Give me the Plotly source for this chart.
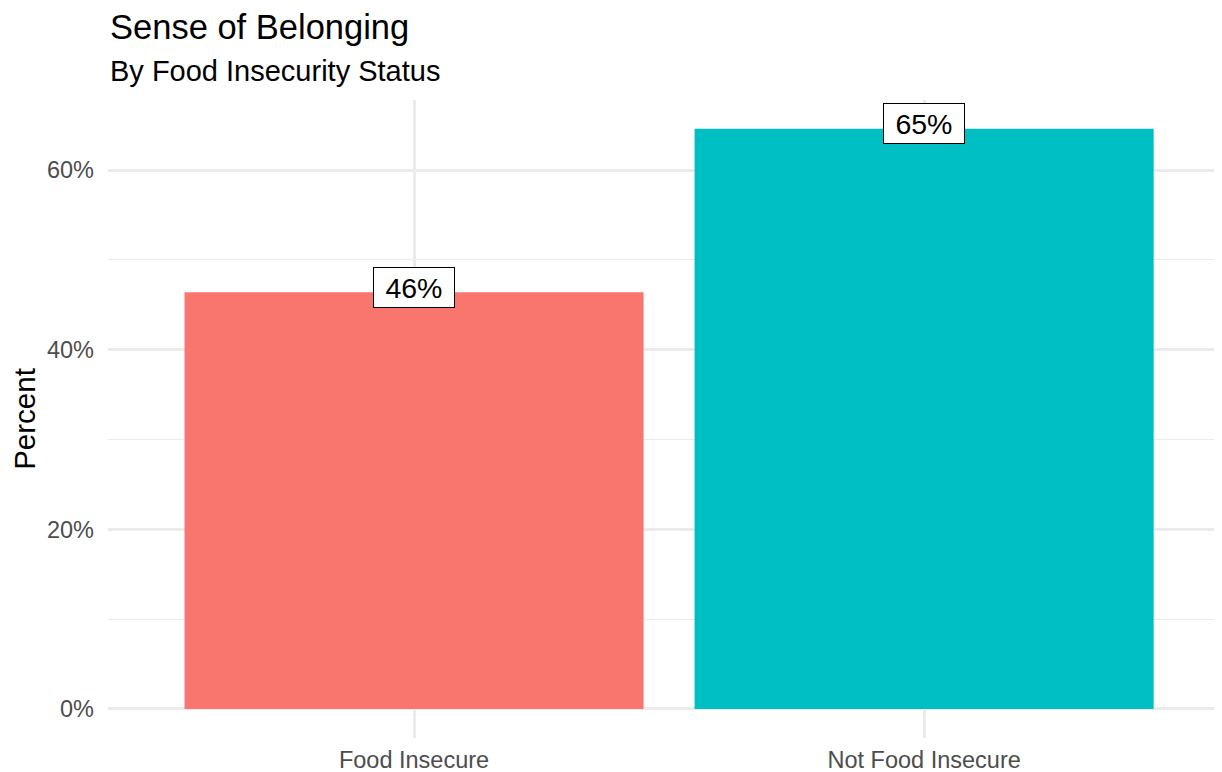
import plotly.graph_objects as go

categories = ["Food Insecure", "Not Food Insecure"]
percent_values = [0.464, 0.646]
bar_colors = ["#F8766D", "#00BFC4"]
y_tick_values = [0, 0.2, 0.4, 0.6]
y_tick_labels = ["0%", "20%", "40%", "60%"]

FONT = "Liberation Sans, Arial, Helvetica, sans-serif"

fig = go.Figure()
fig.add_trace(go.Bar(
    x=categories, y=percent_values, marker=dict(color=bar_colors, line=dict(width=0)),
    width=0.9, showlegend=False, hoverinfo="skip",
))

for c, v in zip(categories, percent_values):
    fig.add_annotation(
        x=c, y=v, text=f"\u00a0{round(v*100):.0f}%\u00a0", showarrow=False,
        xanchor="center", yanchor="middle", yshift=5,
        font=dict(family=FONT, size=28.5, color="black"),
        bgcolor="white", bordercolor="black", borderwidth=1, borderpad=3.5,
    )

fig.add_annotation(
    xref="paper", yref="paper", x=0, y=1, xanchor="left", yanchor="bottom",
    yshift=52, text="Sense of Belonging", showarrow=False,
    font=dict(family=FONT, size=34.5, color="black"),
)
fig.add_annotation(
    xref="paper", yref="paper", x=0, y=1, xanchor="left", yanchor="bottom",
    yshift=11, text="By Food Insecurity Status", showarrow=False,
    font=dict(family=FONT, size=29, color="black"),
)

# the page body has an 8px margin, so the figure is sized/padded to fit the window
fig.update_layout(
    width=1214, height=764,
    margin=dict(l=100, r=0, t=92, b=34),
    plot_bgcolor="white", paper_bgcolor="white",
    font=dict(family=FONT),
    bargap=0.1,
)
fig.update_xaxes(
    type="category", range=[-0.6, 1.584], automargin=False,
    showgrid=True, gridcolor="#EBEBEB", gridwidth=2.5,
    showline=False, zeroline=False, ticks="",
    tickfont=dict(family=FONT, size=23.5, color="#4D4D4D"),
    ticklabelstandoff=5,
)
fig.update_yaxes(
    range=[-0.0323, 0.678], automargin=False,
    tickvals=y_tick_values, ticktext=y_tick_labels,
    showgrid=True, gridcolor="#EBEBEB", gridwidth=2.5,
    minor=dict(dtick=0.1, tick0=0, showgrid=True, gridcolor="#EBEBEB", gridwidth=1.2),
    showline=False, zeroline=False, ticks="",
    tickfont=dict(family=FONT, size=23.5, color="#4D4D4D"),
    ticklabelstandoff=13,
    title=dict(text="Percent", font=dict(family=FONT, size=29.5, color="black"), standoff=4),
)

fig.write_html("out.html")
